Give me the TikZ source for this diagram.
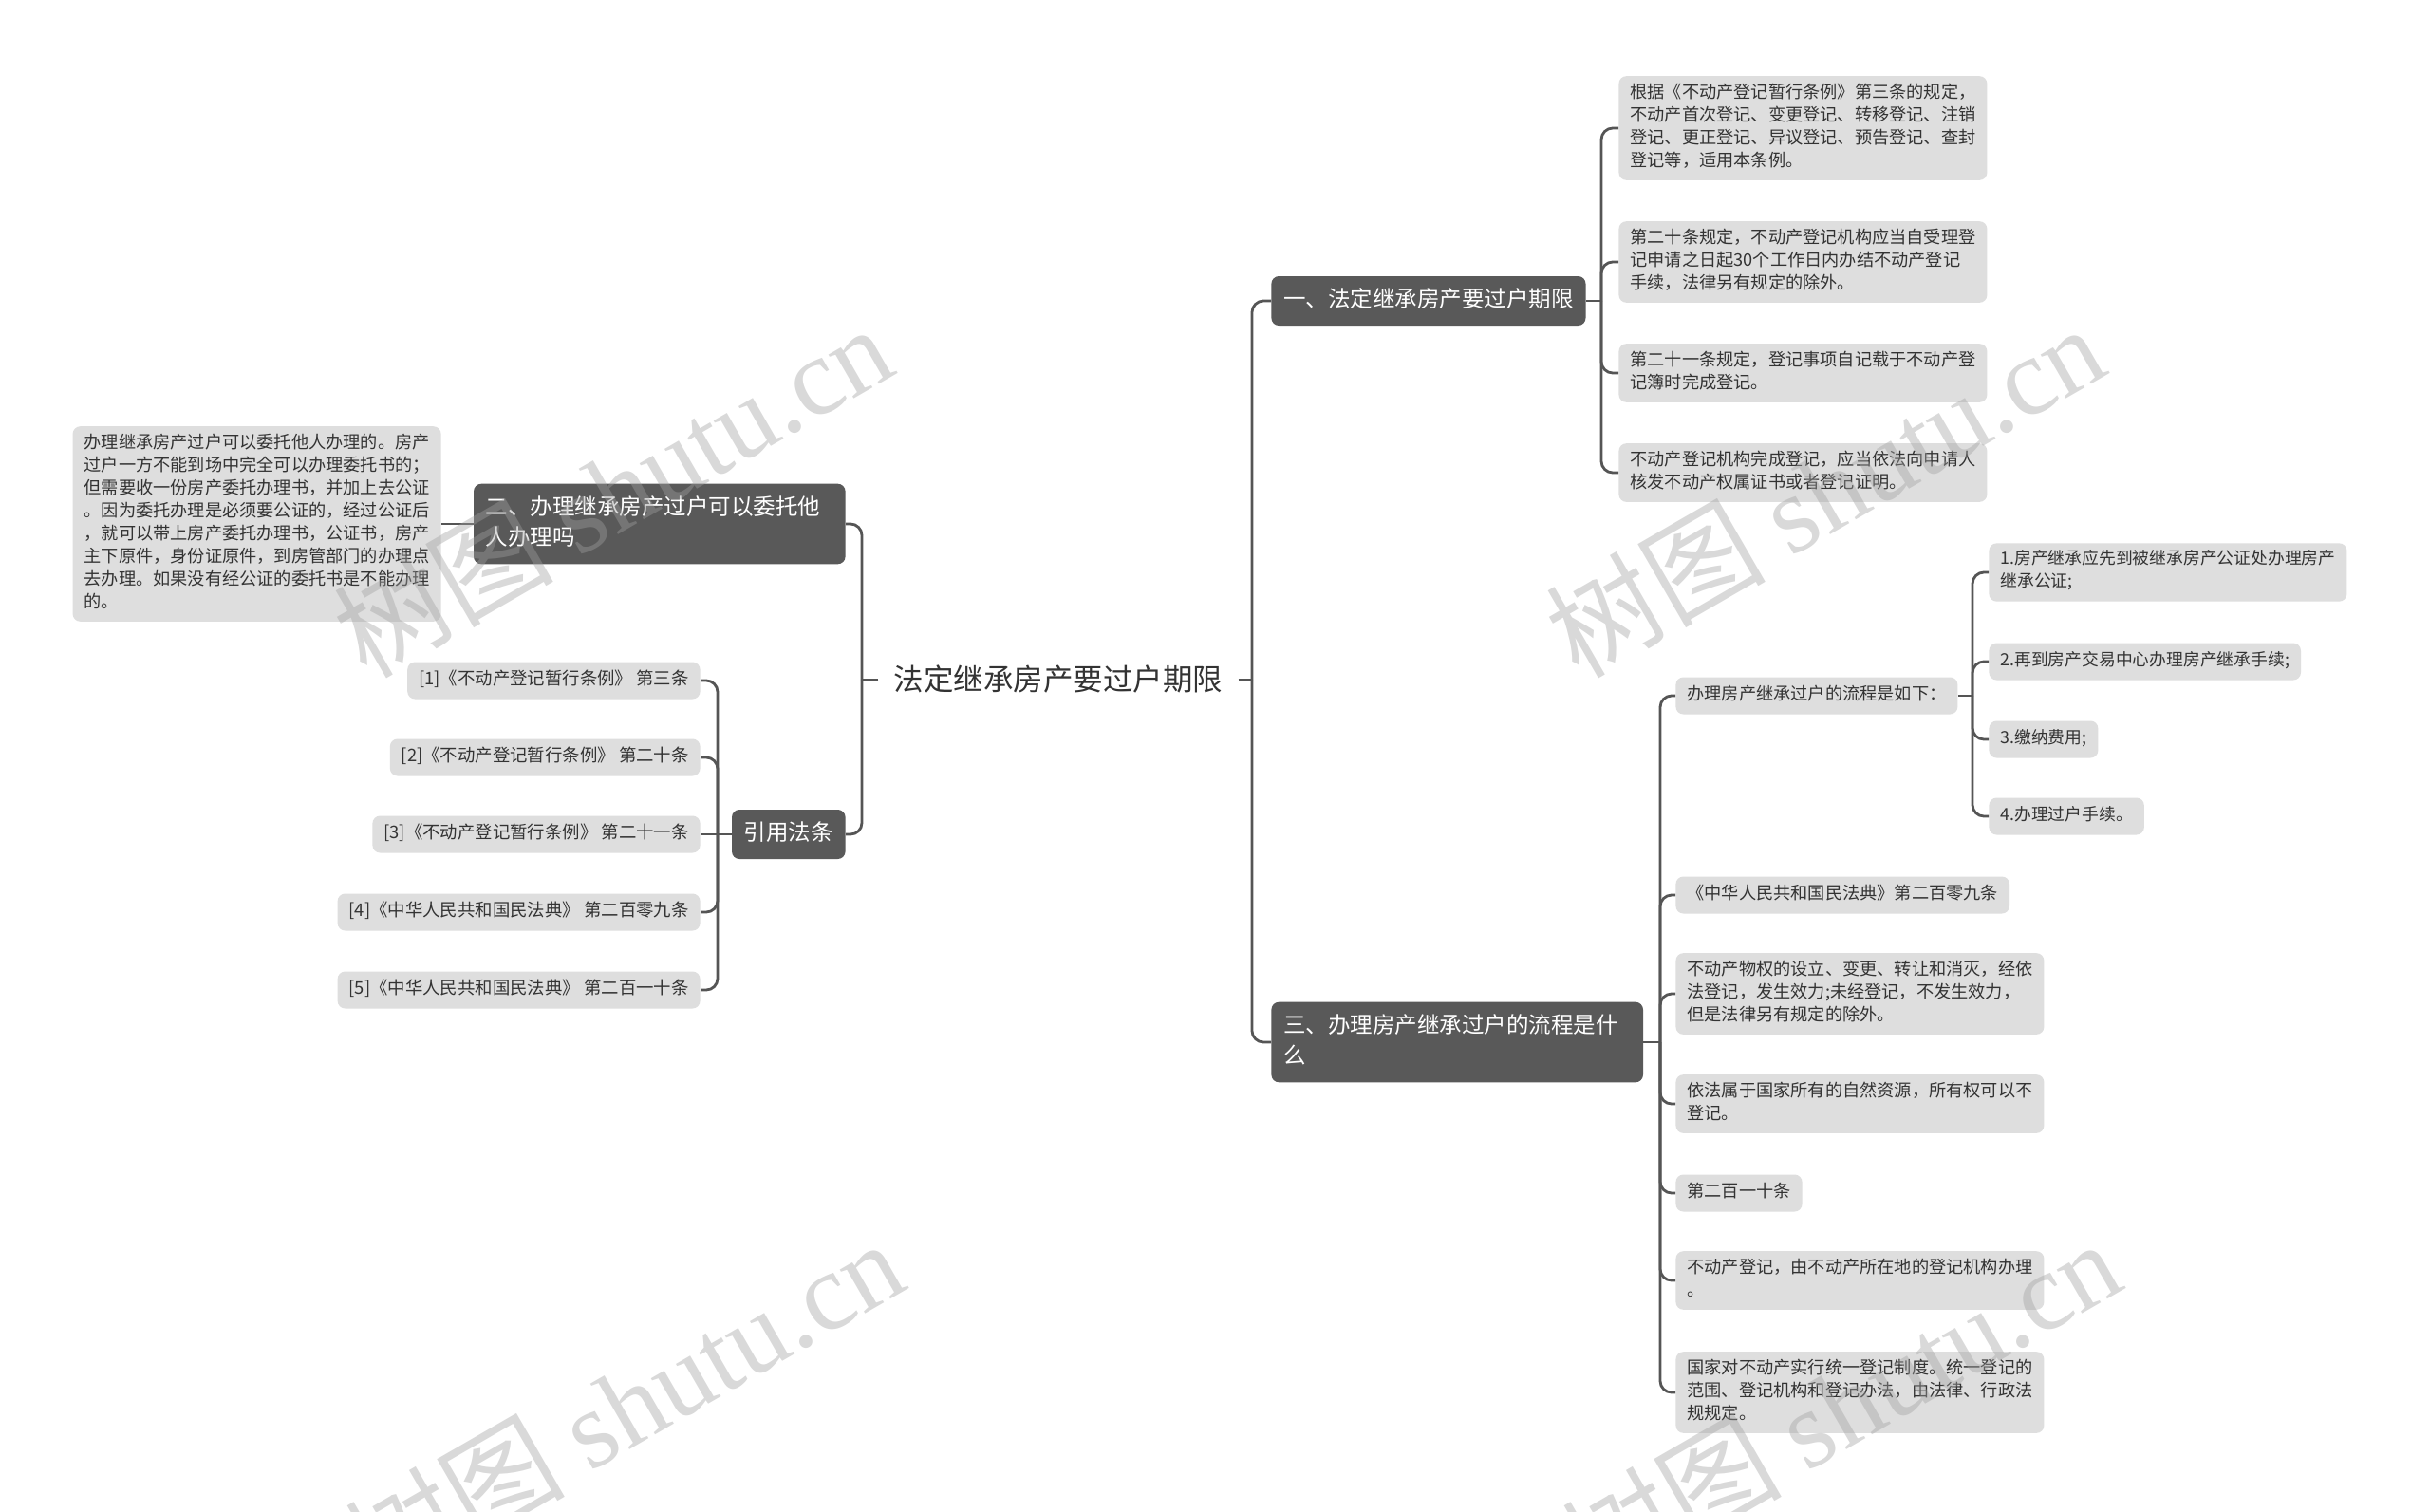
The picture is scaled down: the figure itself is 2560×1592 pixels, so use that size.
\documentclass[tikz,border=0pt]{standalone}
\usepackage{fontspec}
\setmainfont{Noto Sans CJK SC}
\newfontfamily\wmlatin{Liberation Serif}
\definecolor{darkbox}{HTML}{595959}
\definecolor{leafbg}{HTML}{DEDEDE}
\definecolor{linecol}{HTML}{555555}
\definecolor{txt}{HTML}{333333}
\definecolor{wmcol}{HTML}{A0A0A0}
\begin{document}
\begin{tikzpicture}[x=0.5pt,y=-0.5pt,
  leaf/.style={fill=leafbg, text=txt, rounded corners=4pt, inner xsep=6pt, inner ysep=3.75pt,
    align=left, font=\fontsize{9.1pt}{12pt}\selectfont,
    execute at begin node=\strut, execute at end node=\strut},
  citeleaf/.style={leaf, font=\fontsize{9.2pt}{12pt}\selectfont},
  stepleaf/.style={leaf, font=\fontsize{8.9pt}{12pt}\selectfont},
  branch/.style={fill=darkbox, text=white, rounded corners=4pt, inner xsep=6.4pt, inner ysep=4.85pt,
    align=left, font=\fontsize{11.75pt}{16.3pt}\selectfont,
    execute at begin node=\strut, execute at end node=\strut},
  wrapbranch/.style={branch, text width=183pt},
  roottxt/.style={text=txt, inner xsep=8pt, inner ysep=0pt, font=\fontsize{15.75pt}{18pt}\selectfont},
  conn/.style={draw=linecol, line width=1.4pt, rounded corners=6pt},
  wm/.style={text=wmcol, text opacity=0.40, rotate=30, inner sep=0pt,
    font=\fontsize{58pt}{58pt}\selectfont}
]
\useasboundingbox (0,0) rectangle (2560,1592);
\clip (0,0) rectangle (2560,1592);
\fill[white] (0,0) rectangle (2560,1592);

% root
\node[roottxt] (root) at (1115,716) {法定继承房产要过户期限};
\coordinate (rj) at (1319,716);
\coordinate (lj) at (908,716);

% right branches
\node[branch, anchor=west] (b1) at (1339,317) {一、法定继承房产要过户期限};
\node[wrapbranch, anchor=west] (b3) at (1339,1098) {三、办理房产继承过户的流程是什\\么};

% left branches
\node[wrapbranch, anchor=east] (b2) at (891,552) {二、办理继承房产过户可以委托他\\人办理吗};
\node[branch, anchor=east] (cite) at (891,879) {引用法条};

% b2 child
\node[leaf, anchor=east] (b2c) at (465,552) {办理继承房产过户可以委托他人办理的。房产\\过户一方不能到场中完全可以办理委托书的；\\但需要收一份房产委托办理书，并加上去公证\\。因为委托办理是必须要公证的，经过公证后\\，就可以带上房产委托办理书，公证书，房产\\主下原件，身份证原件，到房管部门的办理点\\去办理。如果没有经公证的委托书是不能办理\\的。};

% citations
\coordinate (cj) at (756,879);
\node[citeleaf, anchor=east] (ci1) at (738,717) {[1]《不动产登记暂行条例》 第三条};
\node[citeleaf, anchor=east] (ci2) at (738,798) {[2]《不动产登记暂行条例》 第二十条};
\node[citeleaf, anchor=east] (ci3) at (738,879) {[3]《不动产登记暂行条例》 第二十一条};
\node[citeleaf, anchor=east] (ci4) at (738,961) {[4]《中华人民共和国民法典》 第二百零九条};
\node[citeleaf, anchor=east] (ci5) at (738,1043) {[5]《中华人民共和国民法典》 第二百一十条};

% b1 children
\coordinate (j1) at (1687,317);
\node[leaf, anchor=west] (c1) at (1705,135) {根据《不动产登记暂行条例》第三条的规定，\\不动产首次登记、变更登记、转移登记、注销\\登记、更正登记、异议登记、预告登记、查封\\登记等，适用本条例。};
\node[leaf, anchor=west] (c2) at (1705,276) {第二十条规定，不动产登记机构应当自受理登\\记申请之日起30个工作日内办结不动产登记\\手续，法律另有规定的除外。};
\node[leaf, anchor=west] (c3) at (1705,393) {第二十一条规定，登记事项自记载于不动产登\\记簿时完成登记。};
\node[leaf, anchor=west] (c4) at (1705,498) {不动产登记机构完成登记，应当依法向申请人\\核发不动产权属证书或者登记证明。};

% b3 children
\coordinate (j3) at (1749,1098);
\node[leaf, anchor=west] (p) at (1765,733) {办理房产继承过户的流程是如下：};
\node[leaf, anchor=west] (d1) at (1765,943) {《中华人民共和国民法典》第二百零九条};
\node[leaf, anchor=west] (d2) at (1765,1047) {不动产物权的设立、变更、转让和消灭，经依\\法登记，发生效力;未经登记，不发生效力，\\但是法律另有规定的除外。};
\node[leaf, anchor=west] (d3) at (1765,1163) {依法属于国家所有的自然资源，所有权可以不\\登记。};
\node[leaf, anchor=west] (d4) at (1765,1257) {第二百一十条};
\node[leaf, anchor=west] (d5) at (1765,1349) {不动产登记，由不动产所在地的登记机构办理\\。};
\node[leaf, anchor=west] (d6) at (1765,1467) {国家对不动产实行统一登记制度。统一登记的\\范围、登记机构和登记办法，由法律、行政法\\规规定。};

% process steps
\coordinate (jp) at (2078,733);
\node[stepleaf, anchor=west] (s1) at (2095,603) {1.房产继承应先到被继承房产公证处办理房产\\继承公证;};
\node[stepleaf, anchor=west] (s2) at (2095,697) {2.再到房产交易中心办理房产继承手续;};
\node[stepleaf, anchor=west] (s3) at (2095,779) {3.缴纳费用;};
\node[stepleaf, anchor=west] (s4) at (2095,860) {4.办理过户手续。};

% connectors: root
\draw[conn] (root.east) -- (rj);
\draw[conn] (rj) |- (b1.west);
\draw[conn] (rj) |- (b3.west);
\draw[conn] (root.west) -- (lj);
\draw[conn] (lj) |- (b2.east);
\draw[conn] (lj) |- (cite.east);

% b2
\draw[conn] (b2.west) -- (b2c.east);

% citations
\draw[conn] (cite.west) -- (cj);
\foreach \n in {ci1,ci2,ci4,ci5} \draw[conn] (cj) |- (\n.east);
\draw[conn] (cj) -- (ci3.east);

% b1
\draw[conn] (b1.east) -- (j1);
\foreach \n in {c1,c2,c3,c4} \draw[conn] (j1) |- (\n.west);

% b3
\draw[conn] (b3.east) -- (j3);
\foreach \n in {p,d1,d2,d3,d4,d5,d6} \draw[conn] (j3) |- (\n.west);

% process
\draw[conn] (p.east) -- (jp);
\foreach \n in {s1,s2,s3,s4} \draw[conn] (jp) |- (\n.west);

% watermarks
\node[wm] (w1) at (645,516) {树图 {\wmlatin shutu.cn}};
\node[wm] (w2) at (1922,516) {树图 {\wmlatin shutu.cn}};
\node[wm] (w3) at (657,1480) {树图 {\wmlatin shutu.cn}};
\node[wm] (w4) at (1939,1480) {树图 {\wmlatin shutu.cn}};
\end{tikzpicture}
\end{document}
